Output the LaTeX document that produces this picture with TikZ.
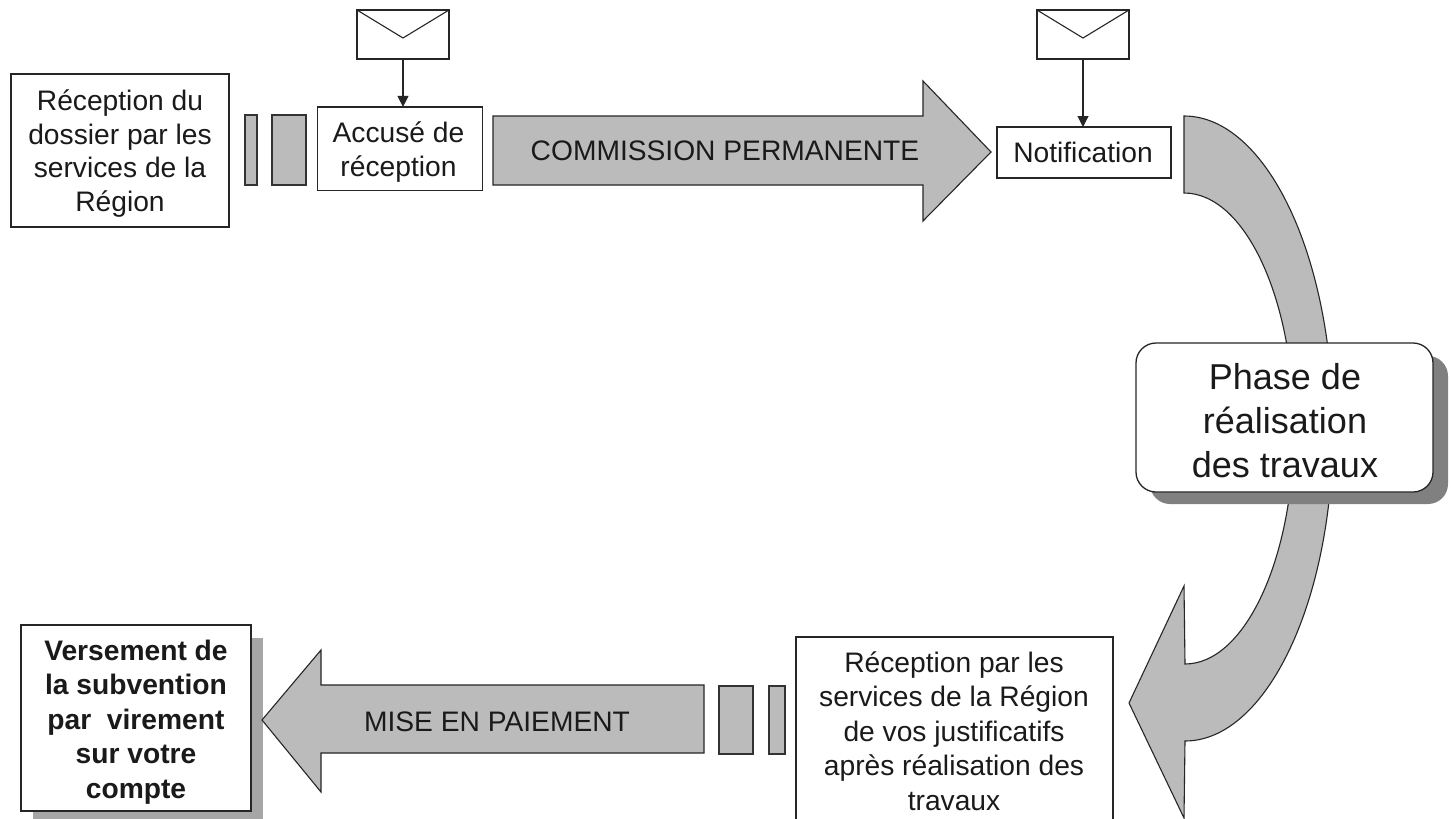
\documentclass[tikz,border=0pt]{standalone}
\usepackage{fontspec}
\setmainfont{Liberation Sans}
\usetikzlibrary{arrows.meta}
\definecolor{txt}{HTML}{1A1A1A}
\definecolor{arrowgray}{HTML}{BBBBBB}
\definecolor{shadowgray}{HTML}{808080}
\definecolor{shadowlight}{HTML}{A6A6A6}
\tikzset{
  x=1pt,y=-1pt,
  textbox/.style={draw=black!85,line width=1.3pt,fill=white,inner sep=0pt,outer sep=0pt},
  graybar/.style={draw=black!80,line width=1.1pt,fill=arrowgray,inner sep=0pt,outer sep=0pt},
  bigarrow/.style={draw=black!85,line width=1.1pt,fill=arrowgray,line join=miter},
  envelope/.style={draw=black!85,line width=1.3pt,fill=white,inner sep=0pt,outer sep=0pt,minimum width=92pt,minimum height=49pt},
  pointer/.style={draw=black!85,line width=1.1pt,-{Triangle[length=11pt,width=11pt]}},
  label/.style={text=txt,align=center,inner sep=0pt},
  bodytext/.style={label,font=\fontsize{28.2}{33.7}\selectfont},
  lowertext/.style={label,font=\fontsize{28.2}{34.5}\selectfont},
  boldtext/.style={label,font=\bfseries\fontsize{28.2}{34.5}\selectfont},
  phasetext/.style={label,font=\fontsize{36}{44}\selectfont}
}
\begin{document}
\begin{tikzpicture}
\useasboundingbox (0,0) rectangle (1451,819);
\clip (0,0) rectangle (1451,819);
\fill[white] (0,0) rectangle (1451,819);

% curved arrow
\path[bigarrow] (1184,116) .. controls (1266,116) and (1333,256) .. (1333,429)
  .. controls (1333,602) and (1266,741) .. (1185,741)
  -- (1184,818) -- (1129,703) -- (1184,586) -- (1185,664)
  .. controls (1245,664) and (1294,558) .. (1294,428.5)
  .. controls (1294,299) and (1245,193) .. (1184,193) -- cycle;

% phase box
\fill[shadowgray,rounded corners=20pt] (1150,356) rectangle (1448,504);
\node[textbox,rounded corners=20pt,minimum width=297pt,minimum height=149pt] (phase) at (1284.5,417.5) {};
\node[phasetext] (phaset) at (1285,420.5) {Phase de\\réalisation\\des travaux};

% top row
\node[textbox,minimum width=218pt,minimum height=153pt] (dossier) at (120,150.5) {};
\node[bodytext] (dossiert) at (120,153.5) {Réception du\\dossier par les\\services de la\\Région};
\node[graybar,minimum width=12pt,minimum height=70pt] (b1) at (251,150) {};
\node[graybar,minimum width=34pt,minimum height=70pt] (b2) at (289,150) {};
\node[textbox,minimum width=164.6pt,minimum height=83.6pt] (accuse) at (400,148.7) {};
\node[bodytext] (accuset) at (398.5,152) {Accusé de\\réception};
\path[bigarrow] (493,116) -- (923,116) -- (923,81) -- (991,152) -- (923,221) -- (923,185) -- (493,185) -- cycle;
\node[label,font=\fontsize{28.2}{34}\selectfont] (commission) at (725,151) {COMMISSION PERMANENTE};
\node[textbox,minimum width=174pt,minimum height=51pt] (notif) at (1084,152.5) {};
\node[bodytext] (notift) at (1083,152.5) {Notification};

% envelopes
\node[envelope] (env1) at (403,34.5) {};
\coordinate (v1) at (403,38);
\draw[black!85,line width=1.1pt] (env1.north west) -- (v1) -- (env1.north east);
\draw[pointer] (env1.south) -- (env1.south |- accuse.north);
\node[envelope] (env2) at (1083,34.5) {};
\coordinate (v2) at (1083,38);
\draw[black!85,line width=1.1pt] (env2.north west) -- (v2) -- (env2.north east);
\draw[pointer] (env2.south) -- (env2.south |- notif.north);

% bottom row
\fill[shadowlight] (33,638) rectangle (263,830);
\node[textbox,minimum width=230pt,minimum height=186pt] (versement) at (136,718) {};
\node[boldtext] (versementt) at (136,722) {Versement de\\la subvention\\par~~virement\\sur votre\\compte};
\path[bigarrow] (704,685) -- (321,685) -- (321,650) -- (262,720) -- (321,792) -- (321,753) -- (704,753) -- cycle;
\node[label,font=\fontsize{28.2}{34}\selectfont] (mise) at (497,722) {MISE EN PAIEMENT};
\node[graybar,minimum width=34pt,minimum height=68pt] (b3) at (736,720) {};
\node[graybar,minimum width=16pt,minimum height=68pt] (b4) at (777,720) {};
\node[textbox,minimum width=317pt,minimum height=200pt] (justif) at (954.5,737) {};
\node[lowertext] (justift) at (954,731) {Réception par les\\services de la Région\\de vos justificatifs\\après réalisation des\\travaux};
\end{tikzpicture}
\end{document}
